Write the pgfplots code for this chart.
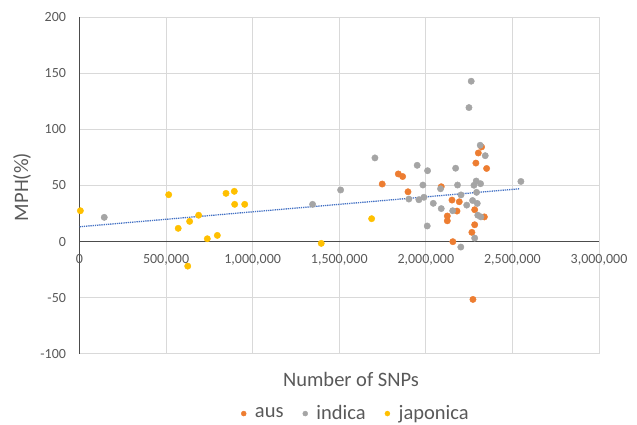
\documentclass[border=0pt]{standalone}
\usepackage{pgfplots}
\pgfplotsset{compat=1.18}
\usepackage{fontspec}
\setmainfont{Carlito}
\definecolor{ausc}{HTML}{ED7D31}
\definecolor{indc}{HTML}{A5A5A5}
\definecolor{japc}{HTML}{FFC000}
\definecolor{trend}{HTML}{4472C4}
\definecolor{gridc}{HTML}{D9D9D9}
\definecolor{txt}{HTML}{595959}
\begin{document}
\begin{tikzpicture}
\path[use as bounding box] (0,0) rectangle (637pt,425pt);
\begin{axis}[
  at={(79.5pt,71.3pt)}, anchor=south west,
  scale only axis, width=519.5pt, height=336.4pt,
  xmin=0, xmax=3000000, ymin=-100, ymax=200,
  xtick={0,500000,1000000,1500000,2000000,2500000,3000000},
  ytick={-100,-50,0,50,100,150,200},
  axis x line=middle, axis y line=left,
  axis line style={-, draw=black!70, line width=1pt},
  hide obscured x ticks=false, hide obscured y ticks=false,
  grid=major, major grid style={draw=gridc, line width=0.9pt},
  major tick length=0pt,
  scaled x ticks=false, scaled y ticks=false,
  /pgf/number format/assume math mode=true,
  xticklabel={\pgfmathprintnumber[fixed,precision=0,1000 sep={,}]{\tick}},
  ticklabel style={font=\fontsize{14}{16}\selectfont, text=txt},
  xticklabel style={yshift=-9pt},
  yticklabel style={xshift=-10pt},
  xlabel={Number of SNPs},
  ylabel={MPH(\%)},
  xlabel style={at={(axis description cs:0.5226,-0.078)}, anchor=center, font=\fontsize{20.5}{23}\selectfont, text=txt},
  ylabel style={at={(axis description cs:-0.1107,0.4955)}, anchor=center, rotate=0, font=\fontsize{20.5}{23}\selectfont, text=txt},
  legend style={at={(axis description cs:0.532,-0.178)}, anchor=center, draw=none, fill=none,
    legend columns=3, font=\fontsize{20.5}{23}\selectfont, text=txt,
    /tikz/every even column/.append style={column sep=17pt}},
  legend image code/.code={\fill[#1] (0pt,0pt) circle (2.5pt); \path (-2.5pt,0pt) (9pt,0pt);},
  legend cell align=left,
]
\addplot[only marks, color=ausc, mark=*, mark size=3.2pt] coordinates {
(1748000,51.3)(1841000,60.3)(1866000,58)(1897000,44.4)(2089000,48.9)
(2124000,22.8)(2124000,18.5)(2151000,37)(2156000,-0.1)(2180000,27.2)
(2193000,35.5)(2266000,8.2)(2272000,-51.6)(2282000,15)(2282000,28.4)
(2289000,70)(2303000,79)(2322000,84.4)(2338000,22)(2351000,65.2)
};
\addlegendentry{aus}
\addplot[only marks, color=indc, mark=*, mark size=3.2pt] coordinates {
(143000,21.6)(1346000,33.2)(1508000,46)(1706000,74.6)(1902000,37.9)
(1950000,68)(1960000,37.3)(1983000,50.4)(1989000,39.5)(2008000,13.9)
(2010000,63.2)(2043000,34.1)(2085000,47.1)(2089000,29.4)(2155000,27.5)
(2172000,65.4)(2183000,50.4)(2202000,-4.9)(2203000,41.6)(2236000,32.5)
(2249000,119.5)(2262000,143)(2270000,36.6)(2278000,50.2)(2282000,3.1)
(2291000,54)(2293000,43.9)(2297000,34)(2300000,23.5)(2314000,85.9)
(2316000,51.6)(2318000,22)(2343000,76.6)(2549000,53.6)
};
\addlegendentry{indica}
\addplot[only marks, color=japc, mark=*, mark size=3.2pt] coordinates {
(5000,27.5)(515000,41.8)(570000,11.8)(625000,-21.9)(636000,18)
(688000,23.5)(738000,2.5)(796000,5.5)(846000,43)(894000,44.8)
(896000,33.2)(954000,33.2)(1396000,-1.6)(1687000,20.4)
};
\addlegendentry{japonica}
\addplot[forget plot, trend, line width=1.3pt, dash pattern=on 1.3pt off 0.9pt] coordinates {(0,13.2)(2543000,47.1)};
\end{axis}
\end{tikzpicture}
\end{document}
